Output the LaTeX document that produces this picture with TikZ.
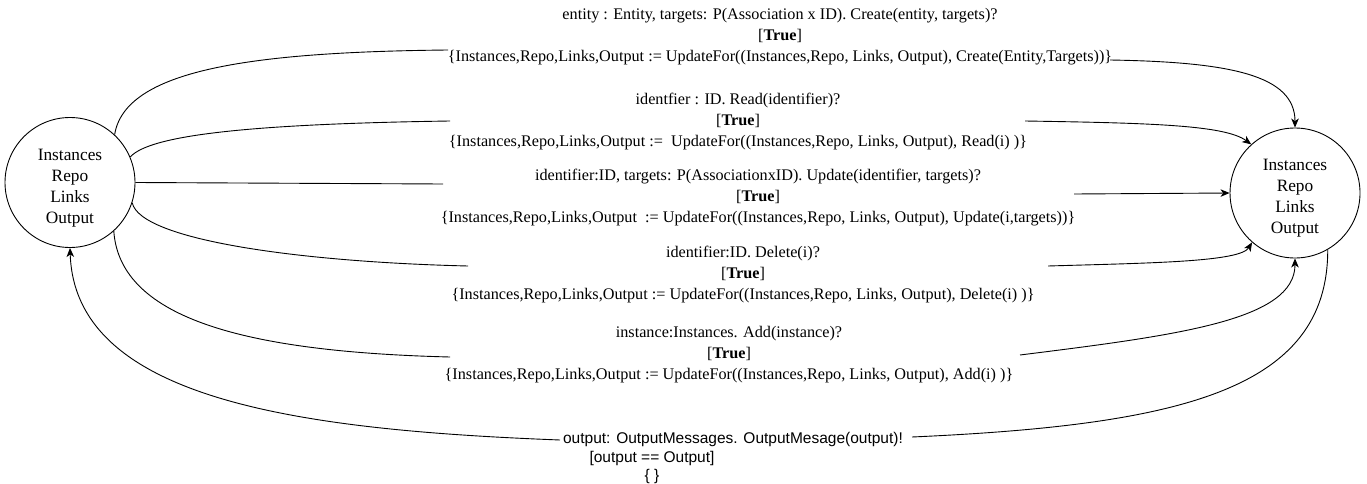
\documentclass[tikz,border=0pt]{standalone}
\usepackage{fontspec}
\setmainfont{Liberation Serif}
\newfontfamily\labelsans{Liberation Sans}
\usetikzlibrary{arrows.meta}
\newcommand{\statetext}{\raisebox{-5pt}[\height][\depth]{\begin{tabular}{@{}c@{}}Instances\\Repo\\Links\\Output\end{tabular}}}
\begin{document}
\begin{tikzpicture}[x=1pt,y=-1pt,
  state/.style={circle,draw,line width=0.9pt,minimum size=130pt,inner sep=0pt,
    font=\fontsize{17.3}{21}\selectfont},
  trans/.style={align=center,inner sep=0pt,font=\fontsize{16.2}{21}\selectfont},
  link/.style={line width=0.9pt},
  arr/.style={link,-{Stealth[length=9pt,width=7.5pt,inset=2.5pt]}}]
\useasboundingbox (0,0) rectangle (1367,484);

% the two states
\node[state] (A) at (70,182.5) {\statetext};
\node[state] (B) at (1295,193) {\statetext};

% transition labels
\node[trans] (L1) at (780,37) {entity : Entity, targets: P(Association x ID). Create(entity, targets)?\\
  {[}\textbf{True}{]}\\
  \{Instances,Repo,Links,Output := UpdateFor((Instances,Repo, Links, Output), Create(Entity,Targets))\}};
\node[trans] (L2) at (738,122) {identfier : ID. Read(identifier)?\\
  {[}\textbf{True}{]}\\
  \{Instances,Repo,Links,Output :=\ \ UpdateFor((Instances,Repo, Links, Output), Read(i) )\}};
\node[trans] (L3) at (758,198) {identifier:ID, targets: P(AssociationxID). Update(identifier, targets)?\\
  {[}\textbf{True}{]}\\
  \{Instances,Repo,Links,Output\ \ := UpdateFor((Instances,Repo, Links, Output), Update(i,targets))\}};
\node[trans] (L4) at (743,275) {identifier:ID. Delete(i)?\\
  {[}\textbf{True}{]}\\
  \{Instances,Repo,Links,Output := UpdateFor((Instances,Repo, Links, Output), Delete(i) )\}};
\node[trans] (L5) at (729,355) {instance:Instances. Add(instance)?\\
  {[}\textbf{True}{]}\\
  \{Instances,Repo,Links,Output := UpdateFor((Instances,Repo, Links, Output), Add(i) )\}};
\node[trans,font=\labelsans\fontsize{15.5}{18.5}\selectfont] (L6) at (652,458)
  {\hspace*{162pt}output: OutputMessages. OutputMesage(output)!\\
  {[}output == Output{]}\\
  \{ \}};

% free ends of the connectors beside the labels
\coordinate (L1w) at (448,50);   \coordinate (L1e) at (1110,60);
\coordinate (L2w) at (450,121);  \coordinate (L2e) at (1025,121);
\coordinate (L3w) at (443,184);  \coordinate (L3e) at (1074,194);
\coordinate (L4w) at (468,266);  \coordinate (L4e) at (1048,266);
\coordinate (L5w) at (450,357);  \coordinate (L5e) at (1020,355);
\coordinate (L6w) at (560,440);  \coordinate (L6e) at (912,437);

% transitions
\draw[arr] (A.47) .. controls (125,70) and (250,52) .. (L1w)
  (L1e) .. controls (1230,62) and (1295,75) .. (B.north);
\draw[arr] (A.23) .. controls (150,135) and (250,124) .. (L2w)
  (L2e) .. controls (1150,123) and (1225,125) .. (B.132);
\draw[arr] (A.east) -- (L3w)
  (L3e) -- (B.west);
\draw[arr] (A.-18) .. controls (140,240) and (300,262) .. (L4w)
  (L4e) .. controls (1150,263) and (1240,262) .. (B.229);
\draw[arr] (A.-48) .. controls (120,320) and (250,352) .. (L5w)
  (L5e) .. controls (1180,335) and (1295,320) .. (B.south);
\draw[arr] (B.-60) .. controls (1328,390) and (1180,425) .. (L6e)
  (L6w) .. controls (300,430) and (75,400) .. (A.south);
\end{tikzpicture}
\end{document}
